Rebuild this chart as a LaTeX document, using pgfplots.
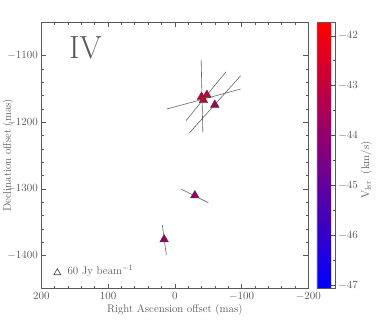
\documentclass[border=0pt]{standalone}
\usepackage{fontspec}
\usepackage{pgfplots}
\pgfplotsset{compat=1.18}
\definecolor{axgray}{gray}{0.35}
\definecolor{vecgray}{gray}{0.4}
\begin{document}
\begin{tikzpicture}[font=\fontsize{11}{13}\selectfont]
\begin{axis}[
    name=main,
    scale only axis,
    width=267pt, height=266.4pt,
    x dir=reverse,
    xmin=-200, xmax=200, ymin=-1450, ymax=-1050,
    xtick={-200,-100,...,200}, ytick={-1400,-1300,...,-1100},
    minor x tick num=4, minor y tick num=4,
    scaled ticks=false,
    /pgf/number format/1000 sep={},
    tick align=inside,
    major tick length=5pt, minor tick length=2.5pt,
    axis line style={axgray, line width=0.6pt},
    every tick/.style={axgray, line width=0.5pt},
    tick label style={axgray},
    label style={axgray},
    xlabel={Right Ascension offset (mas)},
    ylabel={Declination offset (mas)},
    xlabel style={at={(axis description cs:0.5,-0.08)}, anchor=center},
    ylabel style={at={(axis description cs:-0.124,0.5)}, anchor=center},
    colormap={bluered}{rgb255=(0,0,255) rgb255=(255,0,0)},
    point meta min=-47.07, point meta max=-41.73,
    colorbar,
    colorbar style={
        at={(parent axis.north east)}, anchor=north west,
        width=18pt,
        ytick={-47,-46,...,-42}, minor y tick num=1,
        ytick pos=right, yticklabel pos=right,
        ytick align=inside,
        major tick length=4pt, minor tick length=2pt,
        every tick/.style={black!70, line width=0.5pt},
        axis line style={axgray, line width=0.6pt},
        ylabel={V$_{\rm lsr}$\ \ (km/s)},
        ylabel style={at={(axis description cs:2.75,0.446)}, anchor=center, axgray},
    },
    clip=false,
]
% maser spots
\addplot[scatter, only marks, mark=triangle*, mark size=5pt,
    point meta=explicit,
    scatter/use mapped color={draw=black!75, fill=mapped color}]
    coordinates {
    (-60,-1174) [-43.7]
    (-43,-1167) [-43.0]
    (-48,-1159) [-42.9]
    (-40,-1162) [-42.9]
    (-30,-1310) [-43.9]
    (16,-1376)  [-43.9]
};
% polarization vectors
\addplot[vecgray, line width=0.6pt] coordinates {(-39.5,-1106.6) (-42,-1215.8)};
\addplot[vecgray, line width=0.6pt] coordinates {(12.1,-1180.2) (-98.7,-1150.2)};
\addplot[vecgray, line width=0.6pt] coordinates {(-16.8,-1197.7) (-76.7,-1124.2)};
\addplot[vecgray, line width=0.6pt] coordinates {(-21.3,-1216.7) (-98.7,-1130.2)};
\addplot[vecgray, line width=0.6pt] coordinates {(-9.3,-1300.3) (-50.2,-1320.9)};
\addplot[vecgray, line width=0.6pt] coordinates {(18.7,-1354.4) (12.7,-1399.4)};
% flux scale
\addplot[only marks, mark=triangle, mark size=4pt, black!75, line width=0.6pt]
    coordinates {(176,-1426)};
\node[anchor=west, axgray] at (axis cs:166,-1424) {60 Jy beam$^{-1}$};
\node[axgray, font=\fontsize{32}{32}\selectfont] at (axis cs:134,-1088) {IV};
\end{axis}
\pgfresetboundingbox
\path (main.south west) ++(-41.3pt,-41.3pt) rectangle ++(382pt,330pt);
\end{tikzpicture}
\end{document}
